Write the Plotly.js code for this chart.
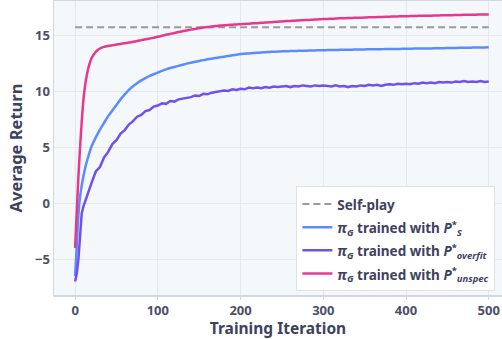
<!DOCTYPE html>
<html>
<head>
<meta charset="utf-8">
<script src="https://cdn.plot.ly/plotly-3.0.1.min.js"></script>
<style>html,body{margin:0;padding:0;background:#fff;}#chart{width:502px;height:339px;}</style>
</head>
<body>
<div id="chart"></div>
<script>
const iterations = [0,2,4,6,8,10,12,14,16,18,20,
  25,30,35,40,45,50,55,60,65,70,75,80,85,90,95,100,
  105,110,115,120,125,130,135,140,145,150,155,160,165,170,175,180,185,190,195,200,
  205,210,215,220,225,230,235,240,245,250,255,260,265,270,275,280,285,290,295,300,
  305,310,315,320,325,330,335,340,345,350,355,360,365,370,375,380,385,390,395,400,
  405,410,415,420,425,430,435,440,445,450,455,460,465,470,475,480,485,490,495,500];

const unspecReturn = [-4.0,-0.8,2.4,5.0,7.3,9.2,10.5,11.4,12.1,12.6,13.0,
  13.55,13.85,14.0,14.08,14.14,14.2,14.26,14.32,14.38,14.45,14.52,14.6,14.67,14.74,14.82,14.9,
  14.99,15.08,15.16,15.24,15.32,15.4,15.47,15.54,15.6,15.66,15.72,15.77,15.82,15.86,15.9,15.93,15.96,15.98,16.0,16.02,
  16.05,16.07,16.1,16.12,16.15,16.17,16.2,16.22,16.25,16.27,16.3,16.32,16.34,16.36,16.38,16.4,16.42,16.44,16.46,16.48,
  16.5,16.51,16.53,16.55,16.56,16.57,16.59,16.6,16.61,16.62,16.64,16.65,16.66,16.67,16.68,16.7,16.71,16.72,16.73,16.74,
  16.75,16.76,16.77,16.78,16.79,16.79,16.8,16.81,16.82,16.83,16.83,16.84,16.85,16.86,16.86,16.87,16.88,16.89,16.89,16.9];

const psReturn = [-6.5,-3.8,-1.0,0.6,1.6,2.4,3.1,3.7,4.2,4.7,5.1,
  5.9,6.6,7.2,7.8,8.3,8.8,9.3,9.75,10.15,10.48,10.75,11.0,11.2,11.4,11.55,11.7,
  11.85,11.98,12.1,12.2,12.3,12.4,12.5,12.58,12.66,12.74,12.81,12.88,12.94,13.0,13.06,13.12,13.18,13.24,13.3,13.35,
  13.38,13.41,13.44,13.47,13.49,13.52,13.54,13.56,13.58,13.6,13.61,13.62,13.63,13.64,13.65,13.66,13.67,13.68,13.69,13.7,
  13.71,13.72,13.72,13.73,13.74,13.74,13.75,13.76,13.76,13.77,13.78,13.78,13.79,13.79,13.8,13.8,13.81,13.81,13.82,13.82,
  13.83,13.84,13.84,13.85,13.86,13.86,13.87,13.88,13.88,13.89,13.9,13.9,13.91,13.92,13.92,13.93,13.94,13.94,13.95,13.96];

const overfitReturn = [-7.0,-6.3,-5.0,-2.9,-0.9,-0.3,0.15,0.65,0.95,1.55,1.85,
  2.85,3.25,4.1,4.6,5.3,5.65,6.25,6.55,7.05,7.35,7.75,7.9,8.25,8.35,8.65,8.75,
  8.95,8.9,9.15,9.1,9.3,9.35,9.45,9.5,9.65,9.6,9.8,9.75,9.9,9.95,10.0,10.1,10.05,10.2,10.15,10.25,
  10.2,10.35,10.3,10.35,10.3,10.4,10.35,10.45,10.4,10.45,10.5,10.4,10.5,10.45,10.55,10.5,10.45,10.55,10.5,10.55,
  10.5,10.45,10.55,10.45,10.5,10.4,10.5,10.45,10.55,10.5,10.6,10.55,10.6,10.5,10.6,10.65,10.6,10.7,10.65,10.7,
  10.65,10.75,10.7,10.8,10.75,10.8,10.75,10.85,10.8,10.85,10.8,10.9,10.85,10.95,10.85,10.9,10.85,10.95,10.85,10.9];

const selfPlayX = [0, 500];
const selfPlayY = [15.75, 15.75];

const seriesNames = [
  "<b>Self-play</b>",
  "<b><i>π</i><sub><i>G</i></sub> trained with <i>P</i><sup>*</sup><sub><i>S</i></sub></b>",
  "<b><i>π</i><sub><i>G</i></sub> trained with <i>P</i><sup>*</sup><sub><i>overfit</i></sub></b>",
  "<b><i>π</i><sub><i>G</i></sub> trained with <i>P</i><sup>*</sup><sub><i>unspec</i></sub></b>"
];
const legendLabel = s => '<span style="font-size:13.5px">' + s + '</span>';

const traces = [
  {x: selfPlayX, y: selfPlayY, mode: 'lines', name: legendLabel(seriesNames[0]),
   line: {color: '#999999', width: 2, dash: '7px,4px'}},
  {x: iterations, y: psReturn, mode: 'lines', name: legendLabel(seriesNames[1]),
   line: {color: '#5b8cff', width: 2.5, shape: 'spline', smoothing: 0.8}},
  {x: iterations, y: overfitReturn, mode: 'lines', name: legendLabel(seriesNames[2]),
   line: {color: '#7050ee', width: 2.5}},
  {x: iterations, y: unspecReturn, mode: 'lines', name: legendLabel(seriesNames[3]),
   line: {color: '#e8388c', width: 2.5, shape: 'spline', smoothing: 0.8}}
];

const layout = {
  width: 502, height: 339,
  margin: {l: 54, r: 0, t: 1, b: 44},
  paper_bgcolor: '#ffffff',
  plot_bgcolor: '#f5f8fb',
  font: {family: '"Noto Sans", "Open Sans", sans-serif', color: '#4a4f68'},
  showlegend: true,
  legend: {x: 0.541, y: 0.012, xanchor: 'left', yanchor: 'bottom',
    bgcolor: '#ffffff', bordercolor: '#dde1e8', borderwidth: 1,
    font: {size: 15.5, color: '#3d4260'}, tracegroupgap: 0},
  xaxis: {range: [-25.5, 516], tickvals: [0,100,200,300,400,500],
    showgrid: true, gridcolor: '#e4e8ee', gridwidth: 1, zeroline: false,
    showline: true, linecolor: '#d3d8e0', linewidth: 1.5, mirror: true,
    ticks: 'outside', ticklen: 3, tickcolor: '#d3d8e0',
    tickfont: {size: 13, color: '#4a4f68', weight: 'bold'},
    title: {text: '<b>Training Iteration</b>', font: {size: 15.5, color: '#3d4260'}, standoff: 9}},
  yaxis: {range: [-8.2, 18.1], tickvals: [-5,0,5,10,15],
    ticktext: ['−5','0','5','10','15'],
    showgrid: true, gridcolor: '#e4e8ee', gridwidth: 1, zeroline: false,
    showline: true, linecolor: '#d3d8e0', linewidth: 1.5,
    ticks: '', tickfont: {size: 13, color: '#4a4f68', weight: 'bold'},
    title: {text: '<b>Average Return</b>', font: {size: 16.5, color: '#3d4260'}, standoff: 8}}
};

Plotly.newPlot('chart', traces, layout, {displayModeBar: false, staticPlot: true});
</script>
</body>
</html>
